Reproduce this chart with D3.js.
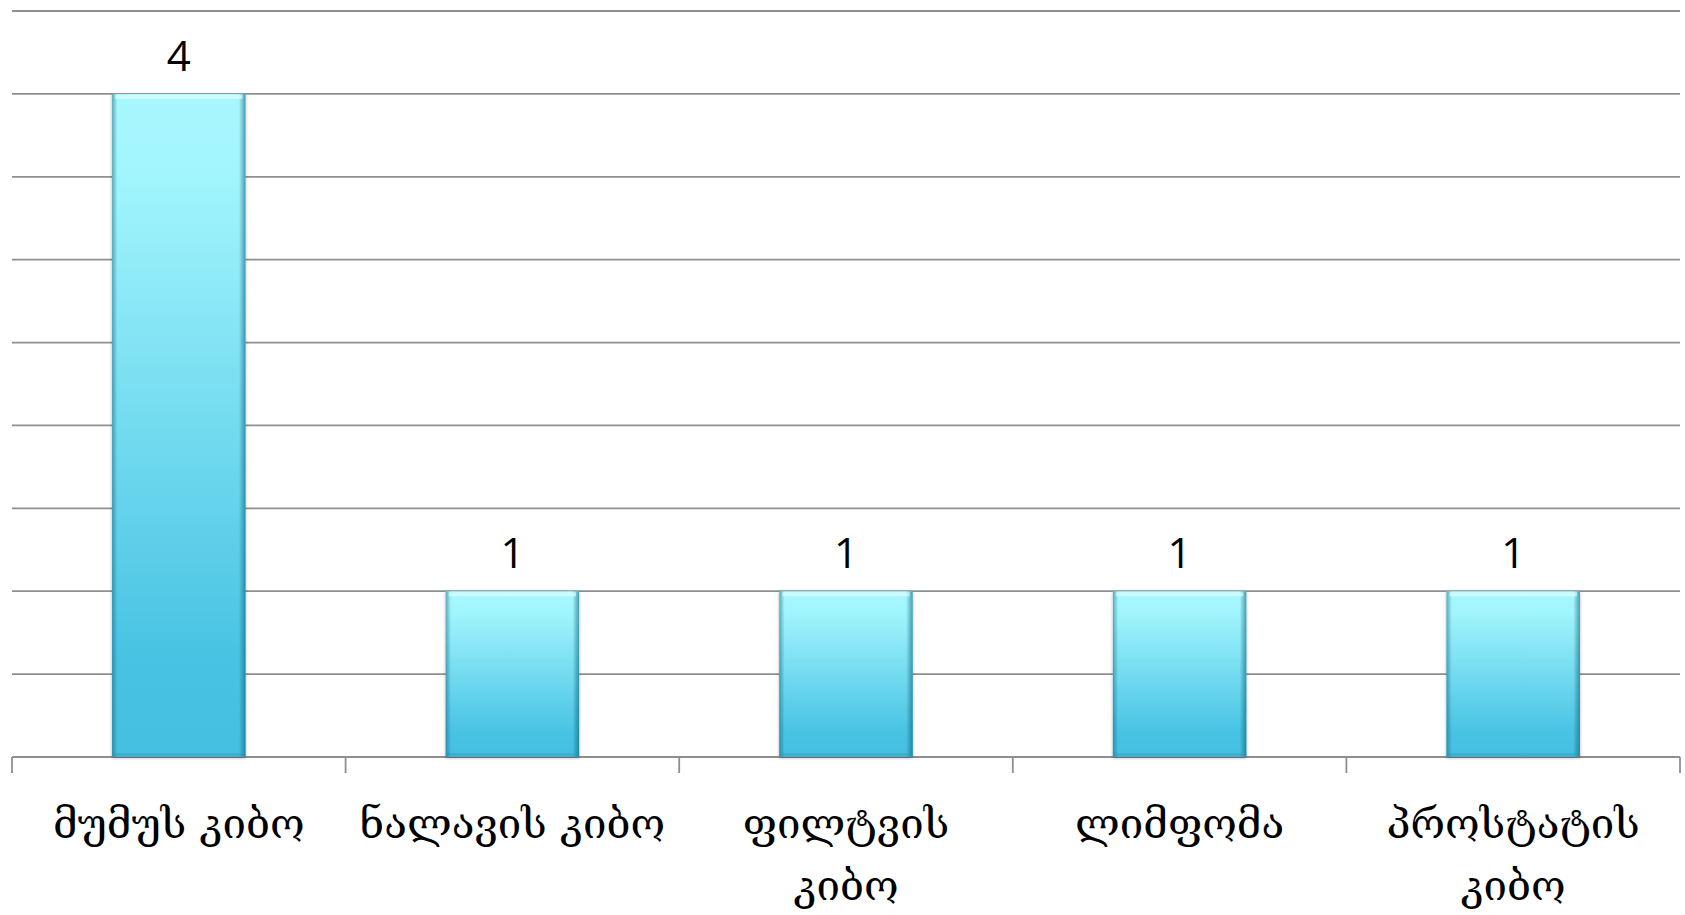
<!DOCTYPE html>
<html>
<head>
<meta charset="utf-8">
<script src="https://cdn.jsdelivr.net/npm/d3@7"></script>
<style>
  html, body { margin: 0; padding: 0; background: #fff; }
  svg { display: block; }
</style>
</head>
<body>
<svg width="1685" height="915"></svg>
<script>
// data
var categories = ["მუმუს კიბო", "ნალავის კიბო", "ფილტვის კიბო", "ლიმფომა", "პროსტატის კიბო"];
var values = [4, 1, 1, 1, 1];
var gridTicks = [0, 0.5, 1, 1.5, 2, 2.5, 3, 3.5, 4, 4.5];

var svg = d3.select("svg");
var plotLeft = 12, plotRight = 1680, plotTop = 11, base = 757;

var x = d3.scaleBand()
    .domain(categories)
    .range([plotLeft, plotRight])
    .paddingInner(0.6)
    .paddingOuter(0.3);

var y = d3.scaleLinear()
    .domain([0, 4.5])
    .range([base, plotTop]);

var defs = svg.append("defs");
var g1 = defs.append("linearGradient").attr("id", "barfill")
    .attr("x1", 0).attr("y1", 0).attr("x2", 0).attr("y2", 1);
g1.append("stop").attr("offset", "0").attr("stop-color", "#a8f7fe");
g1.append("stop").attr("offset", "0.12").attr("stop-color", "#a2f5fd");
g1.append("stop").attr("offset", "0.85").attr("stop-color", "#48c3e3");
g1.append("stop").attr("offset", "1").attr("stop-color", "#44bfe0");

var g2 = defs.append("linearGradient").attr("id", "edges")
    .attr("x1", 0).attr("y1", 0).attr("x2", 1).attr("y2", 0);
g2.append("stop").attr("offset", "0").attr("stop-color", "#0b5f78").attr("stop-opacity", 0.5);
g2.append("stop").attr("offset", "0.04").attr("stop-color", "#0b5f78").attr("stop-opacity", 0);
g2.append("stop").attr("offset", "0.95").attr("stop-color", "#0b5f78").attr("stop-opacity", 0);
g2.append("stop").attr("offset", "1").attr("stop-color", "#0b5f78").attr("stop-opacity", 0.6);

var sh = defs.append("filter").attr("id", "shadow")
    .attr("x", "-10%").attr("y", "-5%").attr("width", "120%").attr("height", "110%");
sh.append("feDropShadow").attr("dx", 0).attr("dy", 1).attr("stdDeviation", 1.6)
    .attr("flood-color", "#000").attr("flood-opacity", 0.35);

// gridlines
svg.append("g")
    .selectAll("line")
    .data(gridTicks)
    .enter()
    .append("line")
    .attr("x1", plotLeft).attr("x2", plotRight)
    .attr("y1", function(d) { return y(d); })
    .attr("y2", function(d) { return y(d); })
    .attr("stroke", "#8f8f8f")
    .attr("stroke-width", 1.8);

// category axis ticks on band boundaries
var step = x.step();
var bounds = d3.range(categories.length + 1).map(function(i) { return plotLeft + i * step; });
svg.append("g")
    .selectAll("line")
    .data(bounds)
    .enter()
    .append("line")
    .attr("x1", function(d) { return d; }).attr("x2", function(d) { return d; })
    .attr("y1", base).attr("y2", base + 16)
    .attr("stroke", "#8f8f8f")
    .attr("stroke-width", 1.8);

// bars
var bars = svg.append("g")
    .selectAll("g")
    .data(values)
    .enter()
    .append("g");

bars.append("rect")
    .attr("x", function(d, i) { return x(categories[i]); })
    .attr("y", function(d) { return y(d); })
    .attr("width", x.bandwidth())
    .attr("height", function(d) { return base - y(d); })
    .attr("fill", "url(#barfill)")
    .attr("filter", "url(#shadow)");

bars.append("rect")
    .attr("x", function(d, i) { return x(categories[i]); })
    .attr("y", function(d) { return y(d); })
    .attr("width", x.bandwidth())
    .attr("height", function(d) { return base - y(d); })
    .attr("fill", "url(#edges)");

bars.append("rect")
    .attr("x", function(d, i) { return x(categories[i]) + 3; })
    .attr("y", function(d) { return y(d) + 1; })
    .attr("width", x.bandwidth() - 6)
    .attr("height", 4)
    .attr("fill", "#e6feff")
    .attr("opacity", 0.6);

bars.append("rect")
    .attr("x", function(d, i) { return x(categories[i]); })
    .attr("y", base - 4)
    .attr("width", x.bandwidth())
    .attr("height", 4)
    .attr("fill", "#2a94b4")
    .attr("opacity", 0.35);

// value labels
svg.append("g")
    .selectAll("text")
    .data(values)
    .enter()
    .append("text")
    .attr("x", function(d, i) { return x(categories[i]) + x.bandwidth() / 2; })
    .attr("y", function(d) { return y(d) - 23; })
    .attr("text-anchor", "middle")
    .style("font-family", "'Open Sans', 'Liberation Sans', sans-serif")
    .style("font-size", "42px")
    .attr("fill", "#000")
    .text(function(d) { return d; });

// category labels, wrapped to the band width
var labels = svg.append("g")
    .selectAll("text")
    .data(categories)
    .enter()
    .append("text")
    .attr("x", function(d) { return x(d) + x.bandwidth() / 2; })
    .attr("y", 838)
    .attr("text-anchor", "middle")
    .style("font-family", "'DejaVu Serif', 'DejaVu Sans', serif")
    .style("font-size", "42px")
    .attr("fill", "#000");

labels.each(function(d) {
    var t = d3.select(this);
    var cx = +t.attr("x");
    var words = d.split(" ");
    var line = [];
    var tspan = t.append("tspan").attr("x", cx).attr("dy", 0);
    words.forEach(function(w) {
        line.push(w);
        tspan.text(line.join(" "));
        if (tspan.node().getComputedTextLength() > step * 0.94 && line.length > 1) {
            line.pop();
            tspan.text(line.join(" "));
            line = [w];
            tspan = t.append("tspan").attr("x", cx).attr("dy", 62).text(w);
        }
    });
});
</script>
</body>
</html>
